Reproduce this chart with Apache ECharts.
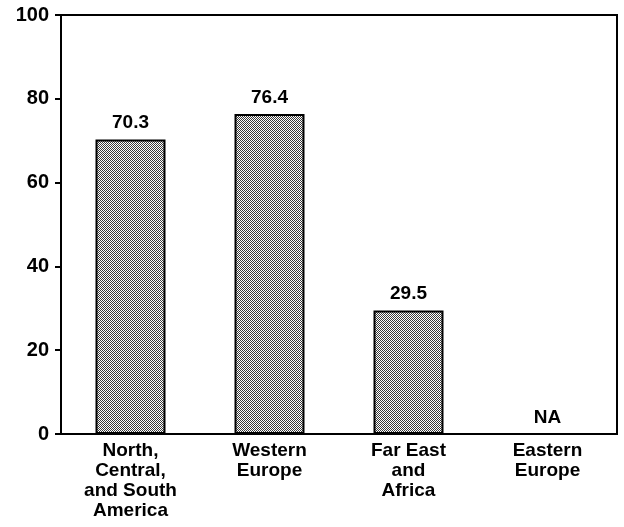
<!DOCTYPE html>
<html><head><meta charset="utf-8">
<script src="https://cdn.jsdelivr.net/npm/echarts@6/dist/echarts.min.js"></script>
<style>html,body{margin:0;padding:0;background:#fff}#c{width:624px;height:527px}</style>
</head><body><div id="c"></div>
<script>
const categories = ['North,\nCentral,\nand South\nAmerica', 'Western\nEurope', 'Far East\nand\nAfrica', 'Eastern\nEurope'];
const values = [70.3, 76.4, 29.5, null];
const yTicks = [0, 20, 40, 60, 80, 100];

// halftone dot pattern
const pc = document.createElement('canvas');
pc.width = 2; pc.height = 2;
const pctx = pc.getContext('2d');
pctx.fillStyle = '#fff'; pctx.fillRect(0,0,2,2);
pctx.fillStyle = '#3a3a3a';
pctx.fillRect(0,0,1,1); pctx.fillRect(1,1,1,1);

const font = '"Liberation Sans", Arial, Helvetica, sans-serif';
const data = values.map(v => v === null
  ? {value: 0, itemStyle:{color:'transparent', borderWidth:0}, label:{formatter:'NA'}}
  : {value: v});

const chart = echarts.init(document.getElementById('c'));
chart.setOption({
  animation: false,
  grid: {left: 61, right: 7, top: 15, bottom: 93, show: true, borderColor: '#000', borderWidth: 2},
  xAxis: {
    type: 'category', data: categories,
    axisLine: {lineStyle: {color: '#000', width: 2}},
    axisTick: {show: false},
    axisLabel: {color: '#000', fontFamily: font, fontWeight: 'bold', fontSize: 19, lineHeight: 20, margin: 7, interval: 0}
  },
  yAxis: {
    type: 'value', min: 0, max: 100, interval: 20,
    splitLine: {show: false},
    axisLine: {show: true, lineStyle: {color: '#000', width: 2}},
    axisTick: {show: true, length: 6, lineStyle: {color: '#000', width: 2}},
    axisLabel: {color: '#000', fontFamily: font, fontWeight: 'bold', fontSize: 20, margin: 12,
      formatter: v => yTicks.includes(v) ? String(v) : ''}
  },
  series: [{
    type: 'bar', data: data, barWidth: 70,
    itemStyle: {color: {image: pc, repeat: 'repeat'}, borderColor: '#000', borderWidth: 2},
    label: {show: true, position: 'top', distance: 7, color: '#000', fontFamily: font, fontWeight: 'bold', fontSize: 19}
  }]
});
</script></body></html>
